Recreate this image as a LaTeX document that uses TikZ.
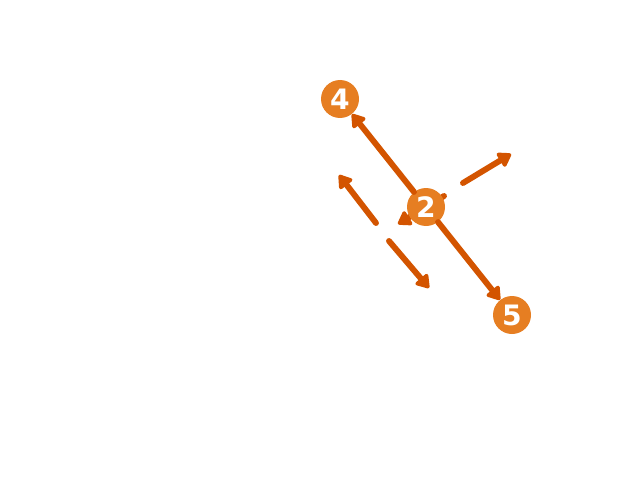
\documentclass[tikz,border=0pt]{standalone}
\usepackage{fontspec}
\setsansfont{DejaVu Sans}
\usetikzlibrary{arrows.meta}
\definecolor{carrot}{HTML}{E67E22}
\definecolor{pumpkin}{HTML}{D35400}
\begin{document}
\begin{tikzpicture}[
	vertex/.style={circle, fill=carrot, text=white, inner sep=0pt, minimum size=0.95cm, font=\sffamily\bfseries\fontsize{20}{20}\selectfont},
	edge/.style={draw=pumpkin, line width=4.2pt, line cap=round, -{Triangle[length=0.36cm, width=0.45cm, round]}}]
	\useasboundingbox (0,0) rectangle (16,12);
	% free ends of the loose arrows
	\coordinate (a1) at (9.4,6.425);
	\coordinate (a2) at (8.475,7.625);
	\coordinate (b1) at (9.725,5.975);
	\coordinate (b2) at (10.725,4.8);
	\coordinate (c1) at (11.575,7.425);
	\coordinate (c2) at (12.775,8.15);
	\coordinate (d1) at (11.1,7.1);
	\coordinate (d2) at (9.95,6.4);
	\draw[edge] (a1) -- (a2);
	\draw[edge] (b1) -- (b2);
	\draw[edge] (c1) -- (c2);
	\draw[edge] (d1) -- (d2);
	\node[vertex] (n4) at (8.5,9.525) {4};
	\node[vertex] (n2) at (10.65,6.825) {2};
	\node[vertex] (n5) at (12.8,4.125) {5};
	\draw[edge] (n2) -- (n4);
	\draw[edge] (n2) -- (n5);
\end{tikzpicture}
\end{document}
